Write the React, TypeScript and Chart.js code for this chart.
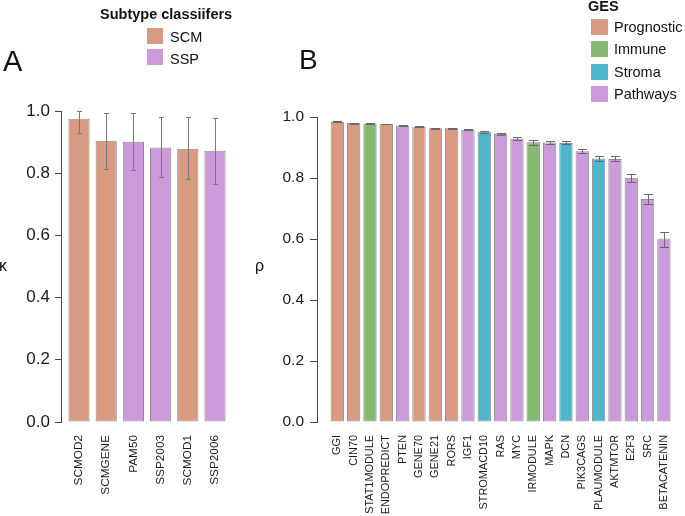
import React, { useEffect, useRef } from "react";
import { Chart, registerables } from "chart.js";

Chart.register(...registerables);

const FONT = '"Liberation Sans", Arial, Helvetica, sans-serif';

// ---------- Panel A data ----------
const subtypeLabels = ["SCMOD2", "SCMGENE", "PAM50", "SSP2003", "SCMOD1", "SSP2006"];
const subtypeGroups = ["SCM", "SCM", "SSP", "SSP", "SCM", "SSP"];
const subtypeKappa = [0.975, 0.904, 0.901, 0.883, 0.879, 0.872];
const subtypeLow = [0.928, 0.813, 0.809, 0.787, 0.781, 0.764];
const subtypeHigh = [1.0, 0.995, 0.995, 0.98, 0.98, 0.978];

// ---------- Panel B data ----------
const gesLabels = [
  "GGI", "CIN70", "STAT1MODULE", "ENDOPREDICT", "PTEN", "GENE70", "GENE21", "RORS",
  "IGF1", "STROMACD10", "RAS", "MYC", "IRMODULE", "MAPK", "DCN", "PIK3CAGS",
  "PLAUMODULE", "AKTMTOR", "E2F3", "SRC", "BETACATENIN",
];
const gesGroups = [
  "Prognostic", "Prognostic", "Immune", "Prognostic", "Pathways", "Prognostic", "Prognostic", "Prognostic",
  "Pathways", "Stroma", "Pathways", "Pathways", "Immune", "Pathways", "Stroma", "Pathways",
  "Stroma", "Pathways", "Pathways", "Pathways", "Pathways",
];
const gesRho = [
  0.984, 0.98, 0.978, 0.977, 0.972, 0.968, 0.963, 0.963,
  0.958, 0.952, 0.944, 0.929, 0.917, 0.916, 0.915, 0.888,
  0.864, 0.862, 0.801, 0.731, 0.602,
];
const gesLow = [
  0.9825, 0.9785, 0.9765, 0.9755, 0.9705, 0.9665, 0.9615, 0.9615,
  0.956, 0.949, 0.941, 0.925, 0.909, 0.91, 0.91, 0.881,
  0.856, 0.855, 0.788, 0.715, 0.575,
];
const gesHigh = [
  0.9855, 0.9815, 0.9795, 0.9785, 0.9735, 0.9695, 0.9645, 0.9645,
  0.96, 0.955, 0.947, 0.933, 0.923, 0.921, 0.92, 0.895,
  0.873, 0.872, 0.814, 0.748, 0.624,
];

const yTickValues = [0, 0.2, 0.4, 0.6, 0.8, 1.0];

const groupColors: Record<string, string> = {
  SCM: "#D99A82",
  SSP: "#CC99DA",
  Prognostic: "#D99A82",
  Immune: "#86B972",
  Stroma: "#4CB7CC",
  Pathways: "#CC99DA",
};

const subtypeLegend = ["SCM", "SSP"];
const gesLegend = ["Prognostic", "Immune", "Stroma", "Pathways"];

function makeErrorBars(low: number[], high: number[], color: string, cap: number) {
  return {
    id: "errorBars",
    afterDatasetsDraw(chart: any) {
      const { ctx } = chart;
      const meta = chart.getDatasetMeta(0);
      const ys = chart.scales.y;
      ctx.save();
      ctx.strokeStyle = color;
      ctx.lineWidth = 1;
      meta.data.forEach((bar: any, i: number) => {
        const x = Math.round(bar.x) + 0.5;
        const y1 = Math.round(ys.getPixelForValue(low[i])) + 0.5;
        const y2 = Math.round(ys.getPixelForValue(high[i])) + 0.5;
        ctx.beginPath();
        ctx.moveTo(x, y1);
        ctx.lineTo(x, y2);
        ctx.moveTo(x - cap, y1);
        ctx.lineTo(x + cap, y1);
        ctx.moveTo(x - cap, y2);
        ctx.lineTo(x + cap, y2);
        ctx.stroke();
      });
      ctx.restore();
    },
  };
}

interface PanelProps {
  labels: string[];
  groups: string[];
  values: number[];
  low: number[];
  high: number[];
  width: number;
  height: number;
  left: number;
  top: number;
  right: number;
  yAxisWidth: number;
  xAxisHeight: number;
  xmin: number;
  xmax: number;
  barPct: number;
  xFont: number;
  yFont: number;
  tickLen: number;
  tickPad: number;
  cap: number;
  errColor: string;
}

function Panel(p: PanelProps) {
  const ref = useRef<HTMLCanvasElement | null>(null);
  useEffect(() => {
    if (!ref.current) return;
    const chart = new Chart(ref.current, {
      type: "bar",
      data: {
        datasets: [
          {
            data: p.values.map((v, i) => ({ x: i, y: v })),
            backgroundColor: p.groups.map((g) => groupColors[g]),
            borderColor: "#8f8f8f",
            borderWidth: 1,
            borderSkipped: false,
            barPercentage: p.barPct,
            categoryPercentage: 1,
          } as any,
        ],
      },
      options: {
        responsive: false,
        animation: false,
        devicePixelRatio: 1,
        layout: { padding: { top: p.top, right: p.right, left: 0, bottom: 0 } },
        plugins: { legend: { display: false }, tooltip: { enabled: false } },
        scales: {
          x: {
            type: "linear",
            min: p.xmin,
            max: p.xmax,
            offset: false,
            grid: { display: false },
            border: { display: false },
            afterBuildTicks: (s: any) => {
              s.ticks = p.labels.map((_, i) => ({ value: i }));
            },
            afterFit: (s: any) => {
              s.height = p.xAxisHeight;
            },
            ticks: {
              autoSkip: false,
              minRotation: 90,
              maxRotation: 90,
              padding: 5,
              color: "#1a1a1a",
              font: { family: FONT, size: p.xFont },
              callback: (_v: any, i: number) => p.labels[i],
            },
          } as any,
          y: {
            min: 0,
            max: 1,
            afterBuildTicks: (s: any) => {
              s.ticks = yTickValues.map((v) => ({ value: v }));
            },
            afterFit: (s: any) => {
              s.width = p.yAxisWidth;
            },
            grid: { drawOnChartArea: false, drawTicks: true, tickLength: p.tickLen, color: "#444" },
            border: { display: true, color: "#444", width: 1 },
            ticks: {
              padding: p.tickPad,
              color: "#1a1a1a",
              font: { family: FONT, size: p.yFont },
              callback: (v: any) => Number(v).toFixed(1),
            },
          } as any,
        },
      },
      plugins: [makeErrorBars(p.low, p.high, p.errColor, p.cap)],
    });
    return () => chart.destroy();
  }, []);
  return (
    <canvas
      ref={ref}
      width={p.width}
      height={p.height}
      style={{ position: "absolute", left: p.left, top: 0, width: p.width, height: p.height }}
    />
  );
}

const txt = (
  content: string,
  left: number,
  top: number,
  size: number,
  bold = false
): React.ReactElement => (
  <div
    key={content + left + top}
    style={{
      position: "absolute",
      left,
      top,
      fontFamily: FONT,
      fontSize: size,
      lineHeight: `${size}px`,
      fontWeight: bold ? 700 : 400,
      color: "#111",
      whiteSpace: "nowrap",
    }}
  >
    {content}
  </div>
);

const box = (color: string, left: number, top: number, w: number, h: number, key: string) => (
  <div key={key} style={{ position: "absolute", left, top, width: w, height: h, background: color }} />
);

export default function App() {
  return (
    <div
      style={{
        position: "fixed",
        left: 0,
        top: 0,
        width: 685,
        height: 516,
        background: "#fff",
        overflow: "hidden",
      }}
    >
      <Panel
        labels={subtypeLabels}
        groups={subtypeGroups}
        values={subtypeKappa}
        low={subtypeLow}
        high={subtypeHigh}
        width={250}
        height={516}
        left={0}
        top={111}
        right={18}
        yAxisWidth={61}
        xAxisHeight={94}
        xmin={-0.662}
        xmax={5.625}
        barPct={0.78}
        xFont={11.8}
        yFont={17}
        tickLen={6}
        tickPad={5}
        cap={2.5}
        errColor="#7a7a7a"
      />
      <Panel
        labels={gesLabels}
        groups={gesGroups}
        values={gesRho}
        low={gesLow}
        high={gesHigh}
        width={435}
        height={516}
        left={250}
        top={117}
        right={8}
        yAxisWidth={67}
        xAxisHeight={94}
        xmin={-1.243}
        xmax={20.8}
        barPct={0.815}
        xFont={10.9}
        yFont={15.5}
        tickLen={7}
        tickPad={6}
        cap={4.5}
        errColor="#6a6a6a"
      />
      {/* Panel A annotations */}
      {txt("A", 3, 47, 29)}
      {txt("Subtype classiifers", 100, 7, 14.5, true)}
      {subtypeLegend.map((g, i) => box(groupColors[g], 147, 28 + i * 21, 16, 16, "a" + g))}
      {subtypeLegend.map((g, i) => txt(g, 170, 30 + i * 21.5, 14.5))}
      {txt("κ", -1, 258, 16)}
      {/* Panel B annotations */}
      {txt("B", 299, 46, 28)}
      {txt("GES", 588, -1, 14.5, true)}
      {gesLegend.map((g, i) => box(groupColors[g], 591, 19 + i * 22.3, 17, 16, "b" + g))}
      {gesLegend.map((g, i) => txt(g, 614, 20 + i * 22.3, 14.5))}
      {txt("ρ", 255, 258, 16)}
    </div>
  );
}
